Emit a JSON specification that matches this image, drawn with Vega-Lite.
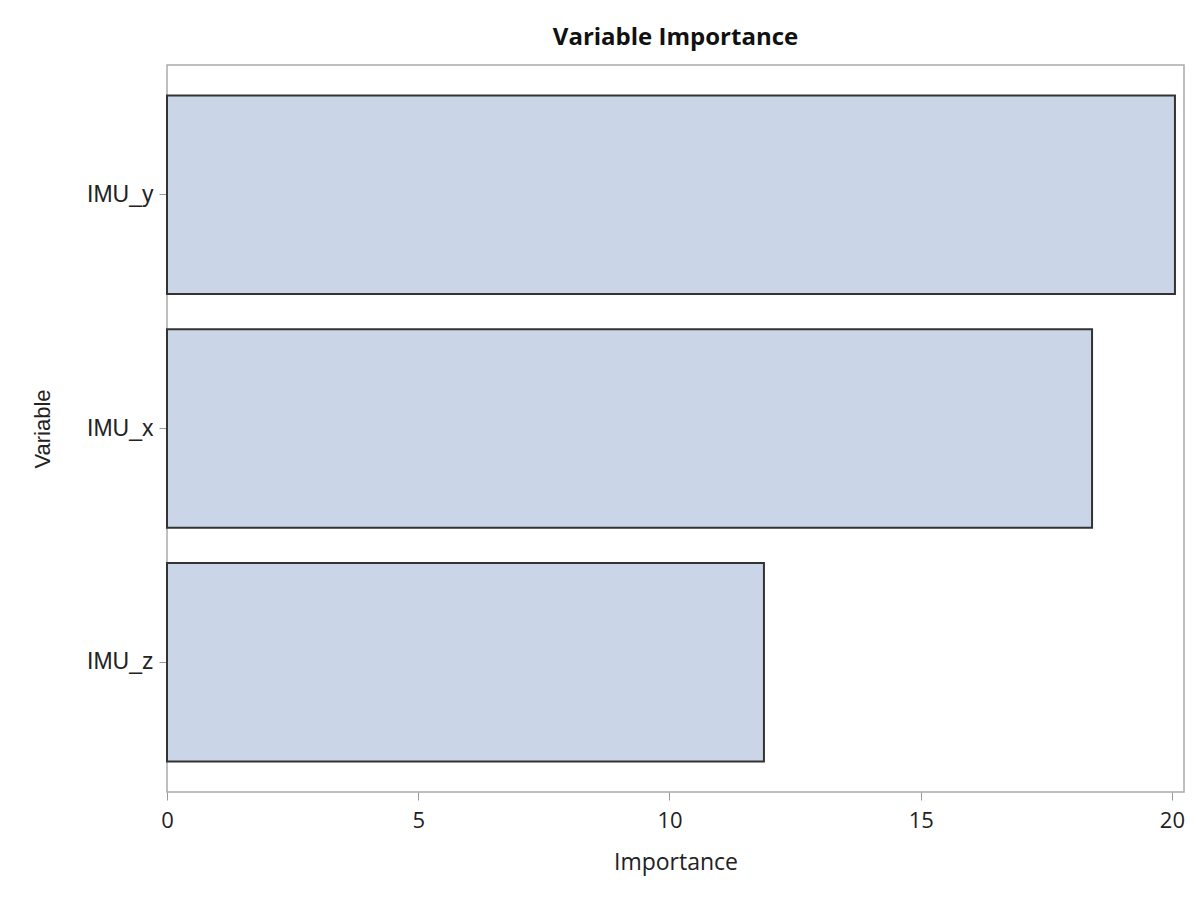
{
  "$schema": "https://vega.github.io/schema/vega-lite/v6.json",
  "autosize": "none",
  "width": 1017,
  "height": 727,
  "padding": {"left": 167, "top": 65, "right": 12, "bottom": 108},
  "background": "white",
  "title": {
    "text": "Variable Importance",
    "font": "Open Sans",
    "fontSize": 24,
    "fontWeight": "bold",
    "color": "#111",
    "anchor": "middle",
    "offset": 15
  },
  "data": {
    "values": [
      {"Variable": "IMU_y", "Importance": 20.06},
      {"Variable": "IMU_x", "Importance": 18.41},
      {"Variable": "IMU_z", "Importance": 11.88}
    ]
  },
  "mark": {"type": "bar", "fill": "#CAD6E7", "stroke": "#333333", "strokeWidth": 2},
  "encoding": {
    "y": {
      "field": "Variable",
      "type": "nominal",
      "sort": ["IMU_y", "IMU_x", "IMU_z"],
      "scale": {"paddingInner": 0.15, "paddingOuter": 0.13},
      "axis": {
        "title": "Variable",
        "titleFont": "Liberation Sans",
        "titleFontSize": 22,
        "titleFontWeight": "normal",
        "titleColor": "#222",
        "titlePadding": 32,
        "labelFont": "Liberation Sans",
        "labelFontSize": 23,
        "labelColor": "#222",
        "labelPadding": 6,
        "tickColor": "#999",
        "tickSize": 8,
        "domain": false
      }
    },
    "x": {
      "field": "Importance",
      "type": "quantitative",
      "scale": {"domain": [0, 20.24], "nice": false},
      "axis": {
        "values": [0, 5, 10, 15, 20],
        "title": "Importance",
        "titleFont": "Open Sans",
        "titleFontSize": 23,
        "titleFontWeight": "normal",
        "titleColor": "#222",
        "titlePadding": 20,
        "labelFont": "Open Sans",
        "labelFontSize": 22,
        "labelColor": "#222",
        "labelPadding": 10,
        "labelFlush": false,
        "tickColor": "#999",
        "tickSize": 8,
        "grid": false,
        "domain": false
      }
    }
  },
  "config": {
    "view": {"stroke": "#aaaaaa", "strokeWidth": 1.5}
  }
}
